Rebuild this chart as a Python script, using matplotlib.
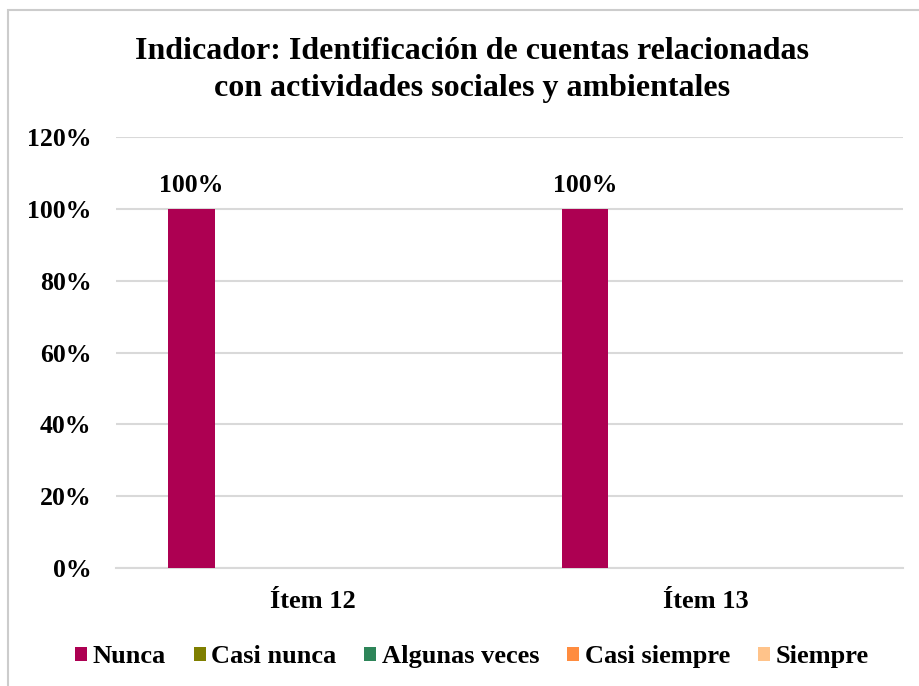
import numpy as np
import matplotlib
matplotlib.use("Agg")
import matplotlib.pyplot as plt
from matplotlib.patches import Rectangle
from matplotlib.ticker import PercentFormatter

plt.rcParams["font.family"] = ["Liberation Serif", "DejaVu Serif"]
plt.rcParams["font.weight"] = "bold"

# ── Data ────────────────────────────────────────────────────────────────────
items = ["Ítem 12", "Ítem 13"]
series = ["Nunca", "Casi nunca", "Algunas veces", "Casi siempre", "Siempre"]
nunca = [1.00, 1.00]
casi_nunca = [0.0, 0.0]
algunas_veces = [0.0, 0.0]
casi_siempre = [0.0, 0.0]
siempre = [0.0, 0.0]
values = [nunca, casi_nunca, algunas_veces, casi_siempre, siempre]

COLORS = ["#ad0052", "#7f7f00", "#2e8559", "#ff8c3f", "#ffc38a"]
GRID = "#d9d9d9"

fig = plt.figure(figsize=(9.2, 6.86), dpi=100)
ax = fig.add_axes([0.126, 0.172, 0.8555, 0.628])

x = np.arange(len(items))
step = 0.154
width = 0.119
for i, (name, vals) in enumerate(zip(series, values)):
    pos = x + (i - 2) * step
    bars = ax.bar(pos, vals, width=width, color=COLORS[i], label=name, zorder=3)
    for b, v in zip(bars, vals):
        if v > 0:
            ax.annotate(f"{v:.0%}", (b.get_x() + b.get_width() / 2, v),
                        xytext=(0, 8.5), textcoords="offset points",
                        ha="center", va="bottom", fontsize=18.5, fontweight="bold")

ax.set_xlim(-0.5, 1.5)
ax.set_ylim(0, 1.2)
ax.set_yticks(np.arange(0, 1.21, 0.2))
ax.yaxis.set_major_formatter(PercentFormatter(1.0, decimals=0))
ax.set_xticks(x)
ax.set_xticklabels(items, fontsize=19)
ax.tick_params(axis="both", length=0)
ax.tick_params(axis="y", pad=17.5, labelsize=18.5)
ax.tick_params(axis="x", pad=16)
ax.grid(axis="y", color=GRID, lw=1.5, zorder=0)
for side in ["top", "right", "left"]:
    ax.spines[side].set_visible(False)
ax.spines["bottom"].set_color(GRID)
ax.spines["bottom"].set_linewidth(1.5)

fig.suptitle("Indicador: Identificación de cuentas relacionadas\ncon actividades sociales y ambientales",
             x=0.513, y=0.946, fontsize=23, fontweight="bold", linespacing=1.38)

fig.legend(loc="center", bbox_to_anchor=(0.513, 0.043), ncol=5, frameon=False,
           fontsize=19, handlelength=0.45, handleheight=0.45, handletextpad=0.22,
           columnspacing=1.05)

# chart border (right and bottom edges fall outside the canvas)
fig.patches.append(Rectangle((8 / 920, -0.05), 1.2, 1 - 10 / 686 + 0.05,
                             transform=fig.transFigure, fill=False,
                             edgecolor="#cccccc", lw=1.5))

fig.savefig("out.png", dpi=100)
